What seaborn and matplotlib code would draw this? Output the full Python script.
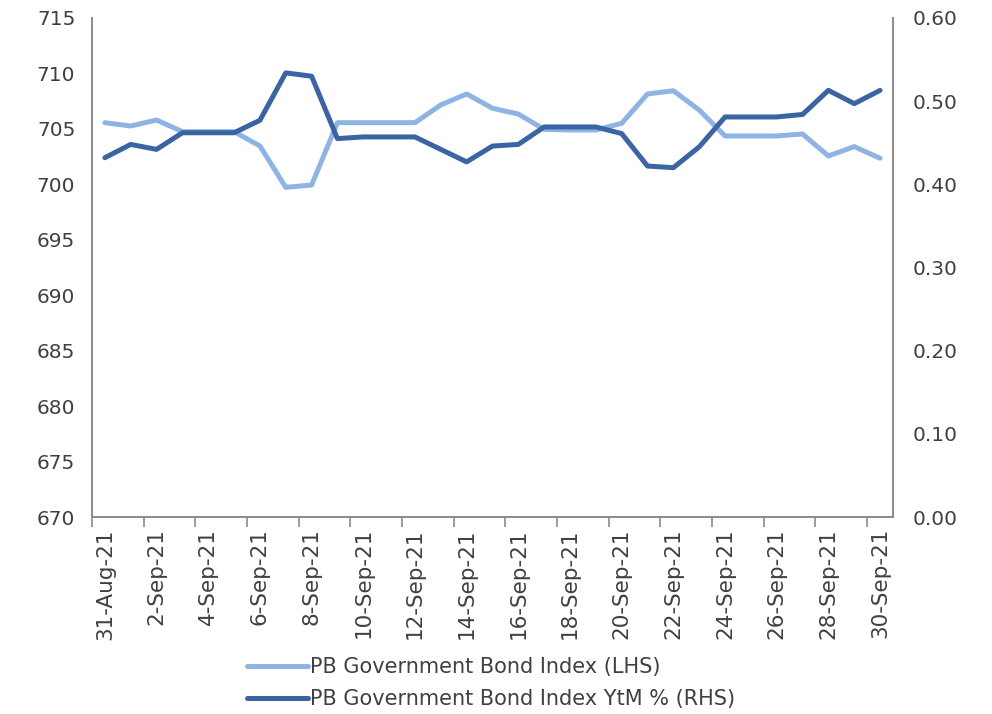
import matplotlib
matplotlib.use("Agg")
import matplotlib.pyplot as plt
from matplotlib.ticker import FormatStrFormatter
import seaborn as sns
import pandas as pd

dates = [
    "31-Aug-21", "1-Sep-21", "2-Sep-21", "3-Sep-21", "4-Sep-21", "5-Sep-21",
    "6-Sep-21", "7-Sep-21", "8-Sep-21", "9-Sep-21", "10-Sep-21", "11-Sep-21",
    "12-Sep-21", "13-Sep-21", "14-Sep-21", "15-Sep-21", "16-Sep-21", "17-Sep-21",
    "18-Sep-21", "19-Sep-21", "20-Sep-21", "21-Sep-21", "22-Sep-21", "23-Sep-21",
    "24-Sep-21", "25-Sep-21", "26-Sep-21", "27-Sep-21", "28-Sep-21", "29-Sep-21",
    "30-Sep-21",
]
index_lhs = [
    705.56, 705.26, 705.80, 704.75, 704.75, 704.75, 703.46, 699.73, 699.94,
    705.56, 705.56, 705.56, 705.56, 707.16, 708.15, 706.86, 706.34, 704.96,
    704.90, 704.90, 705.50, 708.15, 708.44, 706.70, 704.36, 704.36, 704.36,
    704.54, 702.56, 703.40, 702.35,
]
ytm_rhs = [
    0.432, 0.448, 0.442, 0.462, 0.462, 0.462, 0.477, 0.534, 0.530,
    0.455, 0.457, 0.457, 0.457, 0.442, 0.427, 0.446, 0.448, 0.469,
    0.469, 0.469, 0.461, 0.422, 0.420, 0.445, 0.481, 0.481, 0.481,
    0.484, 0.513, 0.497, 0.513,
]
lhs_label = "PB Government Bond Index (LHS)"
rhs_label = "PB Government Bond Index YtM % (RHS)"

df = pd.DataFrame({"pos": range(len(dates)), "date": dates,
                   "index": index_lhs, "ytm": ytm_rhs})

sns.set_theme(style="white")
plt.rcParams["font.family"] = ["DejaVu Sans"]
text_color = "#404040"
spine_color = "#8c8c8c"
light = "#8db4e2"
dark = "#3a64a2"

fig = plt.figure(figsize=(9.92, 7.14), dpi=100)
ax = fig.add_axes([0.0927, 0.2759, 0.8075, 0.6989])
ax2 = ax.twinx()

sns.lineplot(data=df, x="pos", y="index", ax=ax, color=light, lw=3.6,
             label=lhs_label, legend=False, solid_capstyle="round")
sns.lineplot(data=df, x="pos", y="ytm", ax=ax2, color=dark, lw=3.6,
             label=rhs_label, legend=False, solid_capstyle="round")

ax.set_xlim(-0.5, len(dates) - 0.5)
ax.set_ylim(670, 715)
ax.set_yticks(range(670, 716, 5))
ax2.set_ylim(0, 0.6)
ax2.set_yticks([0.0, 0.1, 0.2, 0.3, 0.4, 0.5, 0.6])
ax2.yaxis.set_major_formatter(FormatStrFormatter("%.2f"))

# labels on every other category, tick marks on category boundaries
ax.set_xticks(list(range(0, len(dates), 2)))
ax.set_xticklabels(dates[::2], rotation=90)
ax.set_xticks([i - 0.5 for i in range(0, len(dates), 2)], minor=True)
ax.tick_params(axis="x", which="major", length=0, pad=8,
               labelsize=15.5, labelcolor=text_color)
ax.tick_params(axis="x", which="minor", length=7, width=1.2,
               color=spine_color, direction="out", bottom=True)
ax.tick_params(axis="y", length=0, pad=12, labelsize=14.5, labelcolor=text_color)
ax2.tick_params(axis="y", length=0, pad=14, labelsize=14.5, labelcolor=text_color)

ax.set_xlabel("")
ax.set_ylabel("")
ax2.set_ylabel("")
ax.grid(False)
ax2.grid(False)
for a in (ax, ax2):
    a.spines["top"].set_visible(False)
    for s in ("left", "right", "bottom"):
        a.spines[s].set_color(spine_color)
        a.spines[s].set_linewidth(1.3)

handles = ax.get_lines()[:1] + ax2.get_lines()[:1]
fig.legend(handles, [lhs_label, rhs_label], loc="upper left",
           bbox_to_anchor=(237 / 992, 1 - 647 / 714), frameon=False,
           fontsize=15, labelcolor=text_color, handlelength=2.9,
           handletextpad=0.1, labelspacing=0.55, borderpad=0)

fig.savefig("out.png", dpi=100, facecolor="white")
